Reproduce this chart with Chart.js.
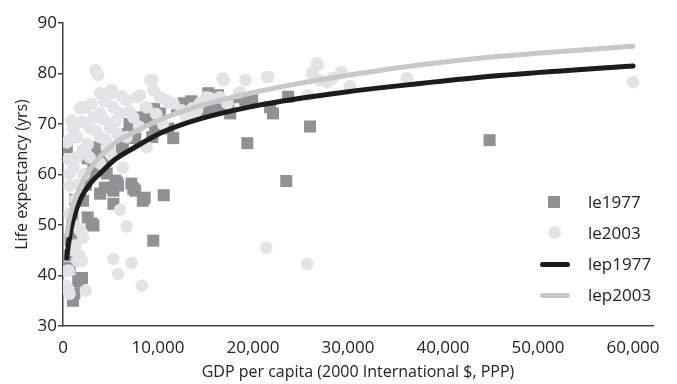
<!DOCTYPE html>
<html lang="en">
<head>
    <meta charset="UTF-8">
    <title>Life expectancy vs GDP per capita</title>
    <script src="https://cdn.jsdelivr.net/npm/chart.js"></script>
    <style>
        body { margin: 0; background: #fff; font-family: "Open Sans", sans-serif; }
        #wrap { position: relative; width: 677px; height: 384px; }
        #legend { position: absolute; left: 538px; top: 186px; color: #222; font-size: 17px; }
        .row { display: flex; align-items: center; height: 31px; }
        .sym { width: 34px; height: 20px; position: relative; margin-right: 16px; }
        .sq { position: absolute; left: 10px; top: 4px; width: 12px; height: 12px; background: #919194; }
        .ci { position: absolute; left: 10px; top: 3px; width: 13px; height: 13px; border-radius: 50%; background: #e2e3e5; }
        .ln { position: absolute; left: 2px; top: 8px; width: 30px; height: 5px; border-radius: 3px; }
    </style>
</head>
<body>
    <div id="wrap">
        <canvas id="chart"></canvas>
        <div id="legend">
            <div class="row"><div class="sym"><div class="sq"></div></div>le1977</div>
            <div class="row"><div class="sym"><div class="ci"></div></div>le2003</div>
            <div class="row"><div class="sym"><div class="ln" style="background:#1c1c1c"></div></div>lep1977</div>
            <div class="row"><div class="sym"><div class="ln" style="background:#c8c8c8"></div></div>lep2003</div>
        </div>
    </div>

    <script>
        // 1977 observations
        const gdp1977 = [44900, 23500, 26000, 19400, 10600, 9500, 8400, 7400, 11600, 11100, 22100, 21800, 23700,
            15300, 16300, 15500, 17600, 18600, 19900, 16200, 17400, 19200, 15100, 1050, 1600, 400, 3200, 2600,
            3900, 5300, 5700, 4600, 6300, 7400, 3600, 3900, 3200, 2100, 1500, 700, 5300, 8100, 9100, 8800, 10200,
            12000, 12700, 3000, 7600, 8600, 5800, 2000, 1200, 2600, 4400, 6200, 7600, 9400, 9700, 5500, 7200,
            500, 800, 1000, 1300, 2400, 2800, 4200, 4800, 6800, 7000, 9600, 13500, 14200, 4400];
        const le1977 = [66.8, 58.7, 69.5, 66.2, 55.9, 46.9, 54.8, 57.2, 67.2, 69.1, 72.1, 73.3, 75.4,
            76.1, 75.7, 72.7, 72.1, 75.3, 74.7, 73.3, 73.7, 74.7, 72.7, 35, 38.9, 65.4, 49.9, 51.5,
            56.2, 56.8, 58.4, 60.2, 65.4, 67.4, 65.4, 63.4, 61.4, 54.8, 48.3, 41.5, 54.2, 71.3, 70.7, 72.7, 72.1,
            73.3, 74.1, 50.3, 56.8, 55.4, 57.8, 39.5, 36.5, 63.2, 65.2, 65.2, 67.2, 67.4, 69.4, 58.8, 58.2,
            44, 47, 52, 55, 58, 60, 62, 64, 68, 70, 73, 74.5, 73, 57.4];

        // 2003 observations
        const gdp2003 = [60000, 36200, 30200, 29300, 21400, 25700, 26700, 26300, 27800, 28400, 21500, 19200, 16900,
            17300, 15100, 13700, 12500, 10900, 9500, 9200, 8100, 8800, 8800, 6300, 6000, 6700, 5300, 5800, 7200,
            8300, 2400, 700, 550, 400, 1500, 2000, 2100, 1800, 700, 700, 700, 400, 900, 1800, 2500, 3400, 3700,
            3900, 4900, 5100, 3200, 3900, 5300, 6700, 7800, 6000, 7400, 2800, 1500, 2100, 2800, 1500, 1100, 3900,
            4900, 5700, 6700, 4600, 3900, 16500, 13600, 14400, 11600, 10200, 27000, 16800, 18600, 13000, 14100,
            11100, 15500, 25800, 26200, 26800, 21600, 1000, 1200, 1300, 1600, 2200, 2600, 3000, 4200, 4400, 5500,
            6200, 7000, 8000, 9800, 10500, 600, 800, 1100, 2000, 3500, 4500, 5000, 1300, 1700, 300, 600, 5200, 2000, 1000, 9400];
        const le2003 = [78.3, 79.1, 77.5, 80.3, 45.5, 42.3, 82, 80, 78.3, 79.1, 79.3, 78.7, 78.7,
            74.1, 75.3, 72.1, 72.7, 74.7, 76.7, 78.7, 75.7, 73.3, 65.4, 61.4, 53, 49.7, 43.3, 40.3, 42.5,
            38, 37, 36.4, 37.3, 40.9, 42.9, 42.9, 47.5, 48.9, 52.2, 57.8, 60.2, 66.4, 70.7, 73.1, 73.3, 80.7, 79.7,
            76.1, 76.1, 76.7, 71.3, 72.1, 73.3, 74.7, 75.3, 72.1, 71.3, 69.3, 67.4, 64.8, 63.4, 63.4, 61.4, 67.4,
            69.3, 68.1, 67.4, 65.4, 62.2, 75.3, 73.1, 74.1, 74.1, 75.3, 78.7, 79, 76.3, 71.3, 72.7,
            74.3, 75.1, 75.7, 80, 81.7, 79.3, 45, 50, 55, 58, 60, 66, 74, 71, 74.5, 70.5,
            75.5, 72.5, 69.5, 72, 70, 63, 67, 69, 70.5, 68.5, 66.8, 64, 46, 44, 38, 41, 76.3, 73.3, 70.3, 78.7];

        // fitted curves
        const curveGdp = [400, 600, 1000, 1800, 3000, 3900, 5500, 7400, 10500, 14400, 19700, 25000, 29200, 35500, 46000, 60000];
        const lep1977 = [43.5, 46.5, 50.5, 55, 58.5, 60.2, 63, 65.2, 68.4, 71.0, 73.4, 75.1, 76.2, 77.6, 79.6, 81.5];
        const lep2003 = [48, 50.5, 53.5, 57.5, 61.5, 63.5, 66.3, 68.3, 71.1, 73.6, 76.1, 78.1, 79.4, 81.2, 83.4, 85.4];

        const xTicks = [0, 10000, 20000, 30000, 40000, 50000, 60000];

        const pts = (xs, ys) => xs.map((x, i) => ({ x: x, y: ys[i] }));
        const textColor = '#222';
        const axisColor = '#444';

        new Chart(document.getElementById('chart'), {
            type: 'scatter',
            data: {
                datasets: [
                    { label: 'le1977', data: pts(gdp1977, le1977), pointStyle: 'rect', pointRadius: 8.5,
                      backgroundColor: '#919194', borderWidth: 0, order: 4 },
                    { label: 'le2003', data: pts(gdp2003, le2003), pointStyle: 'circle', pointRadius: 6.3,
                      backgroundColor: '#e2e3e5', borderWidth: 0, order: 3 },
                    { label: 'lep1977', type: 'line', data: pts(curveGdp, lep1977), showLine: true, pointRadius: 0,
                      borderColor: '#1c1c1c', borderWidth: 5, cubicInterpolationMode: 'monotone', borderCapStyle: 'round', order: 2 },
                    { label: 'lep2003', type: 'line', data: pts(curveGdp, lep2003), showLine: true, pointRadius: 0,
                      borderColor: '#c8c8c8', borderWidth: 5, cubicInterpolationMode: 'monotone', borderCapStyle: 'round', order: 1 }
                ]
            },
            options: {
                responsive: true,
                maintainAspectRatio: false,
                animation: false,
                layout: { padding: { top: 23, right: 24, left: 0, bottom: 0 } },
                plugins: { legend: { display: false }, tooltip: { enabled: false } },
                scales: {
                    x: {
                        type: 'linear',
                        min: 0,
                        max: 62100,
                        afterFit: s => { s.height = 58; },
                        afterBuildTicks: s => { s.ticks = xTicks.map(v => ({ value: v })); },
                        grid: { display: false, drawTicks: false },
                        border: { display: true, color: axisColor, width: 1.5 },
                        ticks: {
                            padding: 12,
                            color: textColor,
                            font: { family: 'Open Sans', size: 17 },
                            callback: v => v.toLocaleString('en-US')
                        },
                        title: {
                            display: true,
                            text: 'GDP per capita (2000 International $, PPP)',
                            color: textColor,
                            font: { family: 'Open Sans', size: 16 },
                            padding: { top: 0, bottom: 2 }
                        }
                    },
                    y: {
                        min: 30,
                        max: 90,
                        afterFit: s => { s.width = 63; },
                        ticks: {
                            stepSize: 10,
                            padding: 1,
                            color: textColor,
                            font: { family: 'Open Sans', size: 17 }
                        },
                        grid: { drawOnChartArea: false, drawTicks: true, tickLength: 5, color: axisColor, lineWidth: 1.5 },
                        border: { display: true, color: axisColor, width: 1.5 },
                        title: {
                            display: true,
                            text: 'Life expectancy (yrs)',
                            color: textColor,
                            font: { family: 'Open Sans', size: 16 },
                            padding: { top: 13, bottom: 0 }
                        }
                    }
                }
            }
        });
    </script>
</body>
</html>
